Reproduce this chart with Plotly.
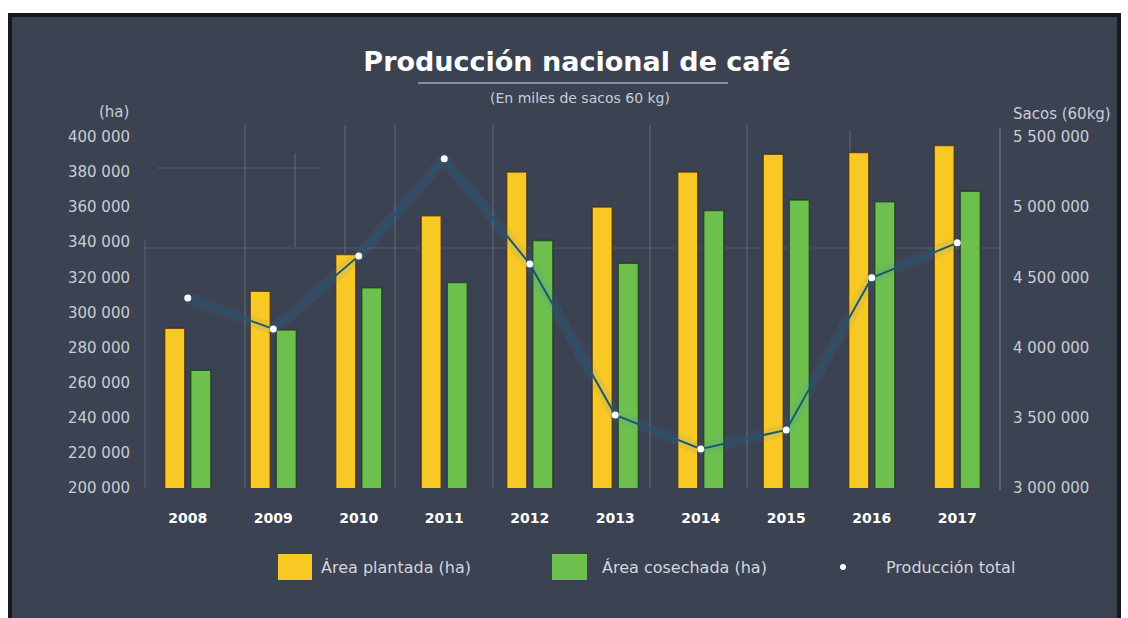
import plotly.graph_objects as go

# --- data -------------------------------------------------------------------
years = ["2008", "2009", "2010", "2011", "2012", "2013", "2014", "2015", "2016", "2017"]
area_plantada = [291000, 312000, 333000, 355000, 380000, 360000, 380000, 390000, 391000, 395000]
area_cosechada = [267000, 290000, 314000, 317000, 341000, 328000, 358000, 364000, 363000, 369000]
produccion_total = [4353000, 4132000, 4652000, 5343000, 4595000, 3520000, 3278000, 3413000, 4496000, 4745000]

left_ticks = list(range(200000, 400001, 20000))
right_ticks = list(range(3000000, 5500001, 500000))

# --- geometry helpers (pixel -> paper) ----------------------------------------
W, H = 1128, 618
L, R, T, B = 145, 128, 128, 130
PW, PH = W - L - R, H - T - B


def fx(px):
    return (px - L) / PW


def fy(py):
    return (H - B - py) / PH


BG = "#3b4252"
TICK = "#c9cdd4"
YELLOW = "#F8C925"
GREEN = "#6DC04E"
TICK_FONT = dict(family="DejaVu Sans", size=15, color=TICK)

fig = go.Figure()

fig.add_trace(go.Bar(
    x=years, y=area_plantada, name="Área plantada (ha)",
    marker=dict(color=YELLOW, line=dict(color="rgba(70,45,20,0.75)", width=1.5)),
    showlegend=False,
))
fig.add_trace(go.Bar(
    x=years, y=area_cosechada, name="Área cosechada (ha)",
    marker=dict(color=GREEN, line=dict(color="rgba(30,60,30,0.75)", width=1.5)),
    showlegend=False,
))
# soft glow under the production line
fig.add_trace(go.Scatter(
    x=years, y=produccion_total, yaxis="y2", mode="lines",
    line=dict(color="rgba(70,130,210,0.10)", width=12),
    hoverinfo="skip", showlegend=False,
))
fig.add_trace(go.Scatter(
    x=years, y=produccion_total, yaxis="y2", mode="lines",
    line=dict(color="#1d5873", width=2),
    hoverinfo="skip", showlegend=False,
))
fig.add_trace(go.Scatter(
    x=years, y=produccion_total, yaxis="y2", mode="markers", name="Producción total",
    marker=dict(color="white", size=7, symbol="circle"),
    showlegend=False,
))

shapes = []
# dark panel with its frame
shapes.append(dict(type="rect", xref="paper", yref="paper", layer="below",
                   x0=fx(10), x1=fx(1119), y0=fy(625), y1=fy(15),
                   fillcolor=BG, line=dict(color="#17191d", width=4)))

# faint guide lines behind the bars
guide = dict(color="rgba(190,196,206,0.30)", width=1)
for xp in [245, 345, 395, 493, 650, 747]:
    shapes.append(dict(type="line", xref="paper", yref="paper", layer="below",
                       x0=fx(xp), x1=fx(xp), y0=fy(488), y1=fy(125), line=guide))
for xp, y_top, y_bot in [(295, 153, 247), (850, 130, 250)]:
    shapes.append(dict(type="line", xref="paper", yref="paper", layer="below",
                       x0=fx(xp), x1=fx(xp), y0=fy(y_bot), y1=fy(y_top), line=guide))
shapes.append(dict(type="line", xref="paper", yref="paper", layer="below",
                   x0=fx(1000), x1=fx(1000), y0=fy(490), y1=fy(128),
                   line=dict(color="rgba(190,196,206,0.45)", width=1)))
shapes.append(dict(type="line", xref="paper", yref="paper", layer="below",
                   x0=fx(145), x1=fx(145), y0=fy(488), y1=fy(240),
                   line=dict(color="rgba(190,196,206,0.25)", width=1)))
shapes.append(dict(type="line", xref="paper", yref="paper", layer="below",
                   x0=fx(145), x1=fx(1000), y0=fy(248), y1=fy(248),
                   line=dict(color="rgba(190,196,206,0.18)", width=1)))
shapes.append(dict(type="line", xref="paper", yref="paper", layer="below",
                   x0=fx(157), x1=fx(320), y0=fy(168), y1=fy(168),
                   line=dict(color="rgba(190,196,206,0.18)", width=1)))

# rule under the title
shapes.append(dict(type="line", xref="paper", yref="paper",
                   x0=fx(418), x1=fx(728), y0=fy(83), y1=fy(83),
                   line=dict(color="rgba(205,210,220,0.7)", width=1.5)))

# legend swatches
shapes.append(dict(type="rect", xref="paper", yref="paper",
                   x0=fx(278), x1=fx(312), y0=fy(580), y1=fy(554),
                   fillcolor=YELLOW, line=dict(width=0)))
shapes.append(dict(type="rect", xref="paper", yref="paper",
                   x0=fx(552), x1=fx(587), y0=fy(580), y1=fy(554),
                   fillcolor=GREEN, line=dict(width=0)))
shapes.append(dict(type="circle", xref="paper", yref="paper",
                   x0=fx(840), x1=fx(846), y0=fy(570), y1=fy(564),
                   fillcolor="white", line=dict(width=0)))

LEG_FONT = dict(family="DejaVu Sans", size=16, color="#d2d6dc")
annotations = [
    dict(text="(En miles de sacos 60 kg)", x=fx(580), y=fy(98), xref="paper", yref="paper",
         showarrow=False, xanchor="center", yanchor="middle",
         font=dict(family="DejaVu Sans", size=14, color="#c9cdd4")),
    dict(text="(ha)", x=fx(131), y=fy(112), xref="paper", yref="paper",
         showarrow=False, xanchor="right", yanchor="middle", font=TICK_FONT),
    dict(text="Sacos (60kg)", x=fx(1011), y=fy(114), xref="paper", yref="paper",
         showarrow=False, xanchor="left", yanchor="middle", font=TICK_FONT),
    dict(text="Área plantada (ha)", x=fx(319), y=fy(567), xref="paper", yref="paper",
         showarrow=False, xanchor="left", yanchor="middle", font=LEG_FONT),
    dict(text="Área cosechada (ha)", x=fx(600), y=fy(567), xref="paper", yref="paper",
         showarrow=False, xanchor="left", yanchor="middle", font=LEG_FONT),
    dict(text="Producción total", x=fx(884), y=fy(567), xref="paper", yref="paper",
         showarrow=False, xanchor="left", yanchor="middle", font=LEG_FONT),
]

fig.update_layout(
    width=W, height=H,
    margin=dict(l=L, r=R, t=T, b=B, pad=0),
    paper_bgcolor="white",
    plot_bgcolor="rgba(0,0,0,0)",
    separators=", ",
    barmode="group",
    bargap=0.39,
    bargroupgap=0.23,
    showlegend=False,
    title=dict(text="<b>Producción nacional de café</b>",
               x=577 / W, xref="container", xanchor="center",
               y=1 - 62 / H, yref="container", yanchor="middle",
               font=dict(family="DejaVu Sans", size=27, color="white")),
    xaxis=dict(type="category", range=[-0.5, 9.5], showgrid=False, zeroline=False,
               showline=False, ticks="", ticklabelstandoff=20,
               tickfont=dict(family="DejaVu Sans", size=14, color="white", weight="bold")),
    yaxis=dict(range=[200000, 405000], tickvals=left_ticks, tickformat=",d",
               showgrid=False, zeroline=False, showline=False, ticks="",
               ticklabelstandoff=14, tickfont=TICK_FONT),
    yaxis2=dict(range=[3000000, 3000000 + 2500000 * 205 / 200], tickvals=right_ticks,
                tickformat=",d", overlaying="y", side="right",
                showgrid=False, zeroline=False, showline=False, ticks="",
                ticklabelstandoff=12, tickfont=TICK_FONT),
    shapes=shapes,
    annotations=annotations,
)

fig.write_html("out.html")
